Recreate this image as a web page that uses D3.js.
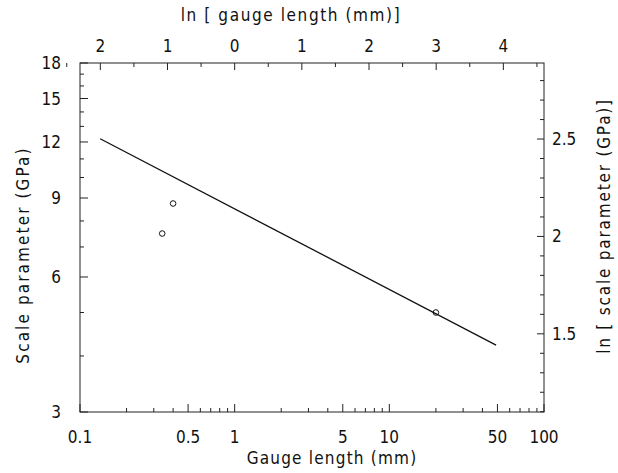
<!DOCTYPE html>
<html>
<head>
<meta charset="utf-8">
<script src="https://cdn.jsdelivr.net/npm/d3@7"></script>
<style>
  body { margin: 0; background: #fff; }
  text { font-family: "DejaVu Sans Condensed", "DejaVu Sans", sans-serif; fill: #111; }
</style>
</head>
<body>
<div id="chart"></div>
<script>
var svgWidth = 618;
var svgHeight = 473;

var margin = { top: 63, right: 74, bottom: 61, left: 80 };
var width = 544 - margin.left;
var height = 412 - margin.top;

// data
var gaugeLength = [0.34, 0.40, 20];
var scaleParam = [7.5, 8.75, 5.0];
var fitLength = [0.135, 49];
var fitScale = [12.2, 4.23];

var bottomTicks = [0.1, 0.5, 1, 5, 10, 50, 100];
var leftTicks = [3, 6, 9, 12, 15, 18];
var topTicks = [-2, -1, 0, 1, 2, 3, 4];
var rightTicks = [1.5, 2, 2.5];

var svg = d3.select("#chart")
  .append("svg")
  .attr("width", svgWidth)
  .attr("height", svgHeight);

var chartGroup = svg.append("g")
  .attr("transform", `translate(${margin.left}, ${margin.top})`);

var xScale = d3.scaleLog().domain([0.1, 100]).range([0, width]);
var yScale = d3.scaleLog().domain([3, 18]).range([height, 0]);

// minor tick values
var xMinor = [];
[0.1, 1, 10].forEach(d => {
  for (var k = 2; k <= 9; k++) xMinor.push(d * k);
});
var yMinor = d3.range(4, 18).filter(v => leftTicks.indexOf(v) < 0);
var topMinor = [-2.5, -1.5, -0.5, 0.5, 1.5, 2.5, 3.5, 4.5];
var rightMinor = d3.range(11, 29).map(v => v / 10).filter(v => rightTicks.indexOf(v) < 0);

function lx(v) { return xScale(Math.exp(v)); }
function ly(v) { return yScale(Math.exp(v)); }

var ax = chartGroup.append("g")
  .attr("stroke", "#222")
  .attr("stroke-width", 1)
  .attr("fill", "none");

// frame
ax.append("rect")
  .attr("x", 0).attr("y", 0)
  .attr("width", width).attr("height", height);

// bottom ticks (inward)
ax.selectAll(".xmaj").data(bottomTicks).enter().append("line")
  .attr("x1", d => xScale(d)).attr("x2", d => xScale(d))
  .attr("y1", height).attr("y2", height - 8);
ax.selectAll(".xmin").data(xMinor.filter(d => bottomTicks.indexOf(d) < 0)).enter().append("line")
  .attr("x1", d => xScale(d)).attr("x2", d => xScale(d))
  .attr("y1", height).attr("y2", height - 4);

// left ticks
ax.selectAll(".ymaj").data(leftTicks).enter().append("line")
  .attr("x1", 0).attr("x2", 8)
  .attr("y1", d => yScale(d)).attr("y2", d => yScale(d));
ax.selectAll(".ymin").data(yMinor).enter().append("line")
  .attr("x1", 0).attr("x2", 4)
  .attr("y1", d => yScale(d)).attr("y2", d => yScale(d));

// top ticks (ln gauge length)
ax.selectAll(".tmaj").data(topTicks).enter().append("line")
  .attr("x1", d => lx(d)).attr("x2", d => lx(d))
  .attr("y1", 0).attr("y2", 7);
ax.selectAll(".tmin").data(topMinor.filter(d => lx(d) <= width)).enter().append("line")
  .attr("x1", d => lx(d)).attr("x2", d => lx(d))
  .attr("y1", 0).attr("y2", 4);

// right ticks (ln scale parameter)
ax.selectAll(".rmaj").data(rightTicks).enter().append("line")
  .attr("x1", width).attr("x2", width - 7)
  .attr("y1", d => ly(d)).attr("y2", d => ly(d));
ax.selectAll(".rmin").data(rightMinor).enter().append("line")
  .attr("x1", width).attr("x2", width - 4)
  .attr("y1", d => ly(d)).attr("y2", d => ly(d));

// tick labels
var fs = 17;
chartGroup.selectAll(".xl").data(bottomTicks).enter().append("text")
  .attr("x", d => xScale(d)).attr("y", height + 31)
  .attr("text-anchor", "middle").attr("font-size", fs)
  .text(d => d);
chartGroup.selectAll(".yl").data(leftTicks).enter().append("text")
  .attr("x", -19).attr("y", d => yScale(d) + 6)
  .attr("text-anchor", "end").attr("font-size", fs)
  .text(d => d);
chartGroup.selectAll(".tl").data(topTicks).enter().append("text")
  .attr("x", d => lx(d)).attr("y", -11)
  .attr("text-anchor", "middle").attr("font-size", fs)
  .text(d => Math.abs(d));
chartGroup.selectAll(".rl").data(rightTicks).enter().append("text")
  .attr("x", width + 8).attr("y", d => ly(d) + 6)
  .attr("text-anchor", "start").attr("font-size", fs)
  .text(d => d);

// axis titles
svg.append("text")
  .attr("x", 291).attr("y", 21)
  .attr("text-anchor", "middle").attr("font-size", fs)
  .attr("letter-spacing", 1.6)
  .text("ln [ gauge length (mm)]");
svg.append("text")
  .attr("x", 332).attr("y", 464)
  .attr("text-anchor", "middle").attr("font-size", fs)
  .attr("letter-spacing", 1.2)
  .text("Gauge length (mm)");
svg.append("text")
  .attr("transform", "translate(29, 255) rotate(-90)")
  .attr("text-anchor", "middle").attr("font-size", fs)
  .attr("letter-spacing", 2.1)
  .text("Scale parameter  (GPa)");
svg.append("text")
  .attr("transform", "translate(610, 226) rotate(-90)")
  .attr("text-anchor", "middle").attr("font-size", fs)
  .attr("letter-spacing", 1.8)
  .text("ln [ scale parameter (GPa)]");

// fit line
var line = d3.line()
  .x(d => xScale(d[0]))
  .y(d => yScale(d[1]));
chartGroup.append("path")
  .datum(d3.zip(fitLength, fitScale))
  .attr("d", line)
  .attr("fill", "none")
  .attr("stroke", "#111")
  .attr("stroke-width", 1.3);

// data points
chartGroup.selectAll("circle")
  .data(d3.zip(gaugeLength, scaleParam))
  .enter()
  .append("circle")
  .attr("cx", d => xScale(d[0]))
  .attr("cy", d => yScale(d[1]))
  .attr("r", 2.8)
  .attr("fill", "none")
  .attr("stroke", "#111")
  .attr("stroke-width", 1);
</script>
</body>
</html>
